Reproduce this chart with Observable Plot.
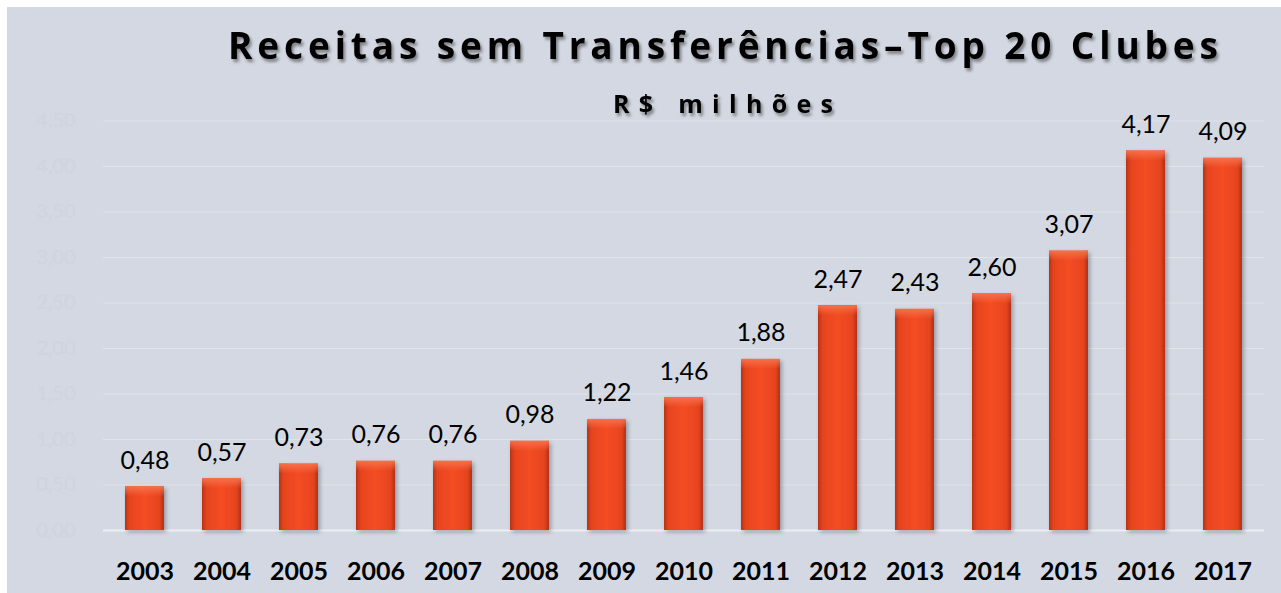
<!DOCTYPE html>
<html>
<head>
<meta charset="utf-8">
<script src="https://cdn.jsdelivr.net/npm/d3@7"></script>
<script src="https://cdn.jsdelivr.net/npm/@observablehq/plot@0.6"></script>
<style>
  html, body { margin: 0; padding: 0; background: #ffffff; }
  #wrap { position: relative; width: 1281px; height: 593px; overflow: hidden; background: #ffffff; }
  #panel { position: absolute; left: 7px; top: 7px; width: 1274px; height: 586px; background: #d3d8e2; }
  #titles { position: absolute; left: 0; top: 0; pointer-events: none; }
</style>
</head>
<body>
<div id="wrap">
  <div id="panel"></div>
  <svg id="titles" width="1281" height="140" xmlns="http://www.w3.org/2000/svg">
    <defs>
      <filter id="tshadow" x="-5%" y="-30%" width="110%" height="180%">
        <feDropShadow dx="2" dy="3" stdDeviation="1.6" flood-color="#000" flood-opacity="0.4"/>
      </filter>
    </defs>
    <text id="title" x="228" y="59" textLength="990" lengthAdjust="spacing"
      font-family="'Open Sans', sans-serif" font-weight="700" font-size="37" fill="#000" filter="url(#tshadow)">Receitas sem Transferências–Top 20 Clubes</text>
    <text id="subtitle" x="613" y="113" textLength="220" lengthAdjust="spacing"
      font-family="'Open Sans', sans-serif" font-weight="700" font-size="25" fill="#000" filter="url(#tshadow)">R$ milhões</text>
  </svg>
</div>
<script>
// ---- data ----
const years = ["2003","2004","2005","2006","2007","2008","2009","2010","2011","2012","2013","2014","2015","2016","2017"];
const values = [0.48, 0.57, 0.73, 0.76, 0.76, 0.98, 1.22, 1.46, 1.88, 2.47, 2.43, 2.60, 3.07, 4.17, 4.09];
const yTicks = [0, 0.5, 1, 1.5, 2, 2.5, 3, 3.5, 4, 4.5];

const data = years.map((year, i) => ({year, value: values[i]}));
const comma = d => d.toFixed(2).replace(".", ",");

const chart = Plot.plot({
  width: 1274,
  height: 586,
  marginLeft: 96,
  marginRight: 17,
  marginTop: 113.5,
  marginBottom: 63,
  style: {background: "transparent", fontFamily: "Lato, sans-serif", overflow: "visible"},
  x: {domain: years, paddingInner: 0.495, paddingOuter: 0.26, label: null},
  y: {domain: [0, 4.5], label: null},
  marks: [
    Plot.gridY(yTicks, {stroke: "#ffffff", strokeOpacity: 0.3}),
    Plot.axisY(yTicks, {tickSize: 0, tickPadding: 28, fontSize: 20, fill: "#cfd4de", tickFormat: comma, label: null}),
    Plot.axisX({tickSize: 0, tickPadding: 32, fontSize: 25, fontWeight: "bold", fill: "#000", label: null}),
    Plot.ruleY([0], {stroke: "#eceef3", strokeWidth: 2}),
    Plot.barY(data, {x: "year", y: "value", fill: "url(#barGrad)"}),
    Plot.barY(data, {x: "year", y1: "value", y2: "value", insetBottom: -10, fill: "url(#capGrad)"}),
    Plot.text(data, {x: "year", y: "value", text: d => comma(d.value), lineAnchor: "bottom", dy: -18, fontSize: 25, fill: "#000"})
  ]
});

// gradients and shadow for the bevelled bars
const ns = "http://www.w3.org/2000/svg";
const defs = document.createElementNS(ns, "defs");
defs.innerHTML = `
  <linearGradient id="barGrad" x1="0" y1="0" x2="1" y2="0">
    <stop offset="0" stop-color="#b53218"/>
    <stop offset="0.12" stop-color="#e6441e"/>
    <stop offset="0.5" stop-color="#f44d24"/>
    <stop offset="0.88" stop-color="#e6441e"/>
    <stop offset="1" stop-color="#b0301a"/>
  </linearGradient>
  <linearGradient id="capGrad" x1="0" y1="0" x2="0" y2="1">
    <stop offset="0" stop-color="#f6704a"/>
    <stop offset="1" stop-color="#f6704a" stop-opacity="0"/>
  </linearGradient>
  <filter id="barShadow" x="-20%" y="-5%" width="140%" height="115%">
    <feDropShadow dx="2" dy="2" stdDeviation="2" flood-color="#000" flood-opacity="0.3"/>
  </filter>`;
chart.insertBefore(defs, chart.firstChild);
const bars = chart.querySelectorAll('g[aria-label="bar"]');
if (bars.length) bars[0].setAttribute("filter", "url(#barShadow)");

chart.style.position = "absolute";
chart.style.left = "0px";
chart.style.top = "0px";
document.getElementById("panel").appendChild(chart);
</script>
</body>
</html>
